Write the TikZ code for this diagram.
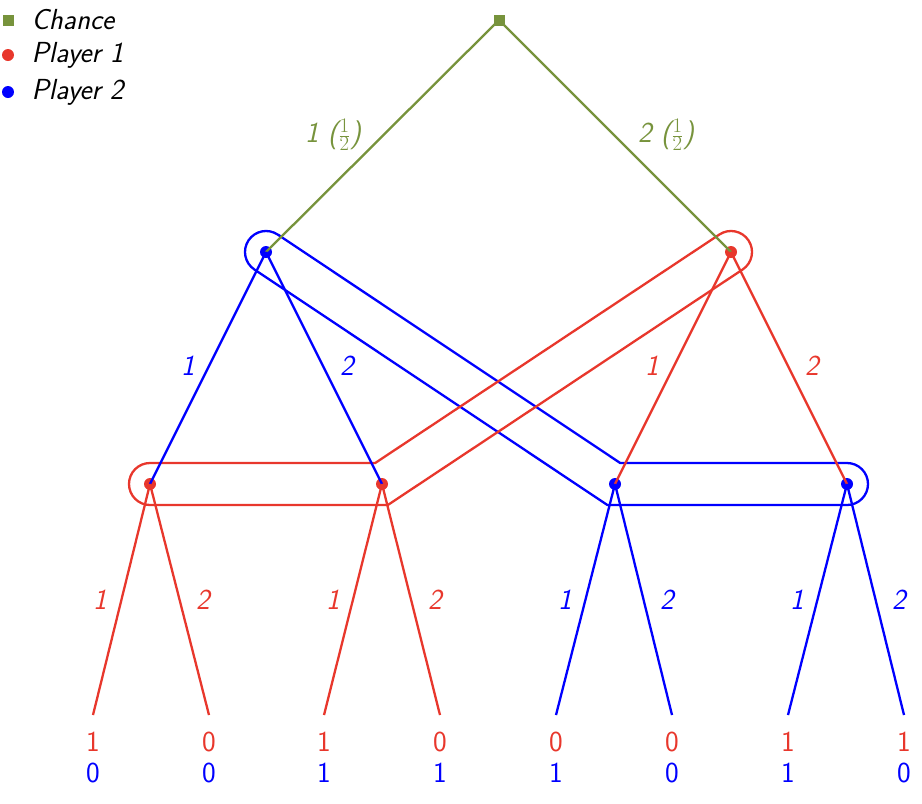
\documentclass[tikz,border=0pt]{standalone}
\begin{document}
\definecolor{cg}{RGB}{119,147,60}
\definecolor{cr}{RGB}{232,55,44}
\definecolor{cb}{RGB}{0,0,255}
\begin{tikzpicture}[x=1pt,y=1pt,
  every node/.style={font=\fontsize{29}{34}\selectfont\sffamily},
  lab/.style={font=\fontsize{29}{34}\selectfont\sffamily\itshape},
  e/.style={line width=2.3pt},
  dot/.style={circle,fill,inner sep=0pt,minimum size=12pt},
  sq/.style={rectangle,fill=cg,inner sep=0pt,minimum size=11pt}]
\useasboundingbox (0,0) rectangle (922,-804);
% info sets
\draw[cb,line width=2.3pt] (277.65,-234.53) -- (620.2,-463) -- (847,-463)
  arc[start angle=90,end angle=-90,radius=21] -- (607.4,-505) -- (254.35,-269.47)
  arc[start angle=236.3,end angle=56.3,radius=21] -- cycle;
\draw[cr,line width=2.3pt] (150,-463) -- (375.2,-463) -- (719.39,-234.51)
  arc[start angle=123.6,end angle=-56.4,radius=21] -- (387.8,-505) -- (150,-505)
  arc[start angle=270,end angle=90,radius=21] -- cycle;
% nodes
\node[sq] (r) at (499,-20) {};
\node[dot,cb] (a) at (266,-252) {};
\node[dot,cr] (f) at (731,-252) {};
\node[dot,cr] (d) at (150,-484) {};
\node[dot,cr] (e) at (382,-484) {};
\node[dot,cb] (g) at (615,-484) {};
\node[dot,cb] (h) at (847,-484) {};
\foreach \i/\x in {1/93,2/209,3/324,4/440,5/556,6/672,7/788,8/904}
  \coordinate (l\i) at (\x,-715);
% edges
\draw[e,cg] (r.center) -- (a.center);
\draw[e,cg] (r.center) -- (f.center);
\draw[e,cb] (a.center) -- (d.center);
\draw[e,cb] (a.center) -- (e.center);
\draw[e,cr] (f.center) -- (g.center);
\draw[e,cr] (f.center) -- (h.center);
\draw[e,cr] (d.center) -- (l1); \draw[e,cr] (d.center) -- (l2);
\draw[e,cr] (e.center) -- (l3); \draw[e,cr] (e.center) -- (l4);
\draw[e,cb] (g.center) -- (l5); \draw[e,cb] (g.center) -- (l6);
\draw[e,cb] (h.center) -- (l7); \draw[e,cb] (h.center) -- (l8);
% labels
\node[lab,cg] (t1) at (333,-135) {1 ($\frac12$)};
\node[lab,cg] (t2) at (666,-135) {2 ($\frac12$)};
\node[lab,cb] (t3) at (188,-366) {1};
\node[lab,cb] (t4) at (347,-366) {2};
\node[lab,cr] (t5) at (652,-366) {1};
\node[lab,cr] (t6) at (812,-366) {2};
\foreach \x/\t/\c [count=\k] in {100/1/cr,203/2/cr,333/1/cr,435/2/cr,565/1/cb,667/2/cb,797/1/cb,899/2/cb}
  \node[lab,\c] (u\k) at (\x,-600) {\t};
\foreach \x/\p/\q [count=\k] in {93/1/0,209/0/0,324/1/1,440/0/1,556/0/1,672/0/0,788/1/1,904/1/0}{
  \node[cr] (p\k) at (\x,-742) {\p};
  \node[cb] (q\k) at (\x,-773) {\q};}
% legend
\node[sq] (k1) at (8,-20) {};
\node[dot,cr] (k2) at (8,-55) {};
\node[dot,cb] (k3) at (8,-92) {};
\node[lab,anchor=west] (m1) at (28,-20) {Chance};
\node[lab,anchor=west] (m2) at (28,-55) {Player 1};
\node[lab,anchor=west] (m3) at (28,-92) {Player 2};
\end{tikzpicture}
\end{document}
